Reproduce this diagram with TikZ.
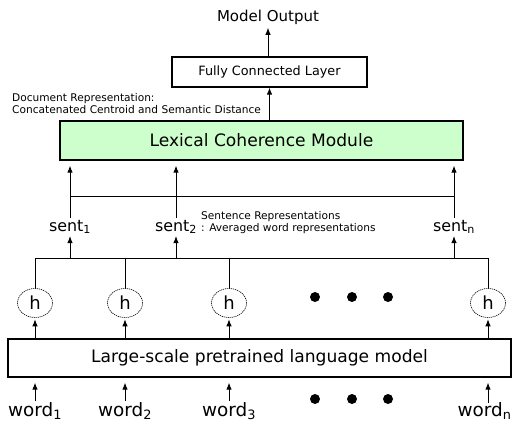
\documentclass[tikz,border=0pt]{standalone}
\usepackage{fontspec}
\setmainfont{DejaVu Sans}
\usetikzlibrary{arrows.meta,shapes.geometric}
\begin{document}
\begin{tikzpicture}[x=1pt,y=-1pt,
  arr/.style={-{Latex[length=7pt,width=5.5pt]},line width=0.9pt},
  ln/.style={line width=0.9pt},
  bigbox/.style={draw,line width=1.3pt,inner sep=0pt,font=\fontsize{17.1}{19}\selectfont},
  hcirc/.style={ellipse,draw,dashed,dash pattern=on 1.2pt off 0.8pt,line width=0.6pt,minimum width=35pt,minimum height=29pt,inner sep=0pt,font=\fontsize{18}{19}\selectfont},
  word/.style={font=\fontsize{18.4}{20}\selectfont,inner sep=1pt},
  sent/.style={font=\fontsize{15.9}{17}\selectfont,inner sep=2pt},
  small/.style={font=\fontsize{10.6}{12.5}\selectfont,align=left,inner sep=0pt},
  dot/.style={circle,fill,inner sep=0pt,minimum size=10pt}]
\useasboundingbox (0,0) rectangle (513,423);
\node[font=\fontsize{15}{17}\selectfont] (out) at (268,17) {Model Output};
\node[draw,line width=1.3pt,minimum width=195pt,minimum height=30pt,inner sep=0pt,font=\fontsize{12.8}{14}\selectfont] (fc) at (269.5,72) {Fully Connected Layer};
\node[bigbox,fill={rgb,255:red,204;green,255;blue,204},minimum width=403pt,minimum height=39pt] (lcm) at (261.5,140.5) {Lexical Coherence Module};
\node[small,anchor=west] (doc) at (12,103.5) {Document Representation:\\Concatenated Centroid and Semantic Distance};
\node[sent] (s1) at (70,227) {sent\textsubscript{1}};
\node[sent] (s2) at (176,227) {sent\textsubscript{2}};
\node[sent] (sn) at (454,227) {sent\textsubscript{n}};
\node[small,anchor=west] (srep) at (201,222.5) {Sentence Representations\\: Averaged word representations};
\node[hcirc] (h1) at (35,303) {h};
\node[hcirc] (h2) at (125,303) {h};
\node[hcirc] (h3) at (229,303) {h};
\node[hcirc] (h4) at (488,303) {h};
\node[dot] (d1) at (315,297) {};
\node[dot] (d2) at (352,297) {};
\node[dot] (d3) at (388,297) {};
\node[bigbox,minimum width=503pt,minimum height=38pt] (lm) at (259.5,358) {Large-scale pretrained language model};
\node[word] (w1) at (35,411) {word\textsubscript{1}};
\node[word] (w2) at (125,411) {word\textsubscript{2}};
\node[word] (w3) at (229,411) {word\textsubscript{3}};
\node[word] (wn) at (484.5,411) {word\textsubscript{n}};
\node[dot] (e1) at (315,399) {};
\node[dot] (e2) at (352,399) {};
\node[dot] (e3) at (388,399) {};
\coordinate (hb) at (0,196);
\coordinate (lb) at (0,258);
% top arrows
\draw[arr] (fc.north -| out) -- (out.south);
\draw[arr] (lcm.north -| fc) -- (fc.south);
\foreach \s in {s1,s2,sn}{
  \draw[arr] (\s.north) -- ([yshift=-5pt]lcm.south -| \s);
  \draw[arr] (\s |- lb) -- (\s.south);
}
\draw[ln] (s1 |- hb) -- (sn |- hb);
\draw[ln] (h1 |- lb) -- (h4 |- lb);
\foreach \h in {h1,h2,h3,h4}{
  \draw[ln] (\h.north) -- (\h |- lb);
  \draw[arr] (lm.north -| \h) -- ([yshift=-1.5pt]\h.south);
}
\foreach \w in {w1,w2,w3}{
  \draw[arr] (\w.north) -- ([yshift=-5pt]lm.south -| \w);
}
\draw[arr] ([yshift=-1pt]wn.north -| h4) -- ([yshift=-5pt]lm.south -| h4);
\end{tikzpicture}
\end{document}
